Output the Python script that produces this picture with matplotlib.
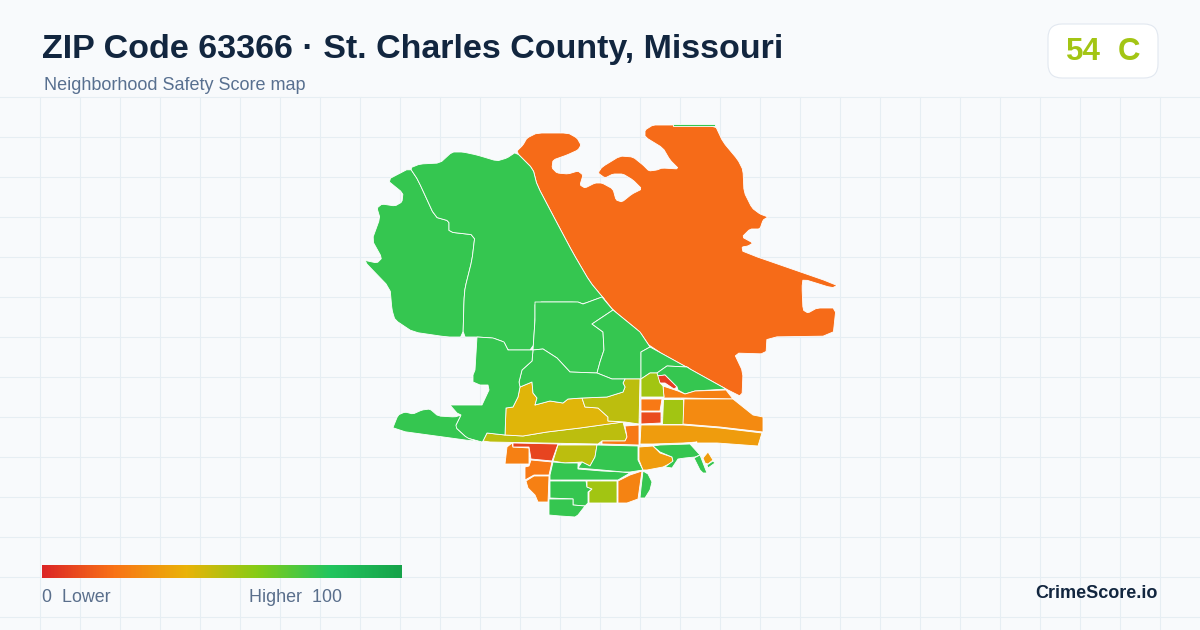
import numpy as np
import matplotlib
matplotlib.use("Agg")
import matplotlib.pyplot as plt
from matplotlib.colors import LinearSegmentedColormap
from matplotlib.patches import FancyBboxPatch, Polygon

plt.rcParams['font.family'] = ['Liberation Sans', 'DejaVu Sans']

title = "ZIP Code 63366 · St. Charles County, Missouri"
subtitle = "Neighborhood Safety Score map"
brand = "CrimeScore.io"
zip_score = 54
zip_grade = "C"

# score scale, same stops as the legend bar
scale_stops = [0, 20, 40, 60, 80, 100]
scale_colors = ['#dc2626', '#f97316', '#eab308', '#84cc16', '#22c55e', '#16a34a']

# block group outlines in image pixels
big_east = [(516,152),(523,145),(527,138),(537,133),(568,133),(577,138),(581,145),(578,150),(567,155),(553,160),
            (552,168),(557,173),(568,174),(578,171),(583,175),(580,185),(585,188),(595,183),(602,183),(613,189),
            (616,200),(622,202),(632,194),(642,189),(633,180),(623,174),(613,174),(605,178),(598,173),(602,167),
            (620,156),(633,157),(643,165),(649,171),(657,170),(662,168),(679,169),(670,160),(663,148),(645,137),
            (645,130),(653,125),(667,125),(715,125),(723,142),(738,160),(743,170),(744,192),(752,208),(760,214),
            (768,217),(763,220),(760,229),(750,229),(742,237),(753,243),(748,246),(742,247),(743,252),(838,285),
            (832,288),(803,279),(802,287),(803,310),(808,313),(817,308),(836,308),(833,336),(767,337),(766,354),
            (734,353),(743,372),(742,397),(726,389),(650,347),(640,332),(613,310),(605,300),(590,282),(573,253),
            (557,223),(537,185),(533,169)]
top_sliver = [(673,124),(715,124),(715,125.5),(673,125.5)]
far_west = [(410,168),(387,180),(403,193),(402,202),(395,206),(382,204),(377,208),(380,218),(372,240),(382,258),
            (377,263),(363,260),(390,288),(392,310),(395,320),(413,332),(447,337),(463,337),(464,300),(465,288),
            (472,260),(475,235),(449,232),(449,221),(435,217),(418,180)]
north_west = [(410,168),(420,164),(440,163),(452,152),(463,152),(477,155),(497,161),(507,158),(516,152),(533,169),
              (537,185),(557,223),(573,253),(590,282),(605,300),(602,297),(583,304),(578,302),(535,302),(535,320),
              (533,350),(513,350),(508,350),(504,342),(493,338),(477,337),(463,337),(464,300),(465,288),(472,260),
              (475,235),(449,232),(449,221),(435,217),(418,180)]
north_center = [(535,302),(578,302),(583,304),(602,297),(607,303),(613,310),(592,324),(603,332),(604,350),(600,362),
                (597,373),(570,372),(557,358),(543,349),(533,350),(535,320)]
river_side = [(613,310),(640,332),(650,347),(641,352),(641,379),(625,379),(612,379),(597,373),(600,362),(604,350),
              (603,332),(592,324)]
east_upper = [(650,347),(690,369),(687,367),(667,366),(657,373),(650,373),(641,379),(641,352)]
east_lower = [(690,369),(726,389),(695,391),(685,394),(678,390),(677,387),(665,375),(657,376),(657,373),(667,366),
              (687,367)]
red_sliver = [(657,376),(665,375),(677,387),(674,389),(665,383),(660,383)]
orange_strip = [(663,386),(678,391),(685,394),(695,391),(726,390),(733,399),(683,398),(664,398)]
lime_north = [(641,379),(650,373),(657,373),(660,383),(663,386),(664,397),(641,397)]
orange_square = [(641,399),(662,399),(660,411),(641,411)]
red_square = [(641,412),(661,412),(661,423),(641,424)]
lime_rect = [(663,399),(683,399),(683,424),(662,424)]
orange_east = [(684,399),(733,399),(743,407),(753,415),(763,417),(763,432),(720,427),(683,424)]
amber_band = [(641,425),(683,425),(720,428),(762,433),(758,446),(717,443),(693,443),(697,442),(683,443),(653,444),
              (640,444)]
olive_band = [(487,433),(505,435),(523,436),(547,432),(580,428),(623,422),(627,437),(625,441),(602,441),(598,444),
              (490,442),(483,441)]
orange_small = [(625,426),(639,425),(639,445),(602,444),(602,441),(625,441),(627,437)]
yellow_block = [(506,408),(513,407),(518,397),(520,387),(532,382),(533,393),(537,398),(535,405),(550,401),(563,403),
                (568,399),(582,398),(585,407),(598,408),(608,417),(608,421),(623,422),(580,428),(547,432),(523,436),
                (505,435)]
olive_north = [(625,379),(640,379),(639,424),(625,422),(608,421),(608,417),(598,408),(585,407),(582,398),(607,397),
               (623,392),(625,387),(623,383)]
green_center = [(533,350),(543,349),(557,358),(570,372),(597,373),(612,379),(625,379),(623,383),(625,387),(623,392),
                (607,397),(582,398),(568,399),(563,403),(550,401),(535,405),(537,398),(533,393),(532,382),(520,387),
                (519,382),(522,370),(532,361)]
west_mid = [(477,337),(493,338),(504,342),(508,350),(533,350),(532,361),(522,370),(519,382),(520,387),(518,397),
            (513,407),(506,408),(505,435),(487,433),(483,441),(482,442),(467,438),(455,427),(461,415),(457,413),
            (450,405),(482,405),(489,390),(488,385),(480,385),(473,382),(473,375),(475,370)]
south_west = [(392,430),(398,415),(405,412),(413,414),(422,410),(430,409),(438,416),(455,417),(461,415),(455,427),
              (467,438),(480,442)]
orange_left = [(507,447),(512,443),(513,447),(529,448),(529,464),(505,464)]
red_block = [(513,443),(558,444),(552,461),(531,459),(529,447),(513,447)]
orange_s1 = [(531,460),(552,462),(549,475),(534,475),(525,480),(525,467),(529,466)]
orange_s2 = [(534,476),(549,476),(548,502),(538,502),(535,495),(528,488),(526,481)]
olive_mid = [(558,445),(597,445),(595,457),(590,466),(582,462),(565,463),(553,461)]
green_s3 = [(553,462),(565,463),(578,463),(578,469),(602,471),(623,472),(630,473),(618,480),(550,480),(550,475)]
green_north = [(597,445),(638,446),(638,460),(643,470),(630,472),(623,472),(602,470),(578,468),(582,462),(590,466),
               (595,457)]
green_s4 = [(550,481),(586,481),(587,487),(592,489),(588,492),(588,503),(585,506),(573,505),(573,499),(550,498)]
green_s5 = [(549,499),(573,499),(573,505),(585,506),(578,515),(575,517),(560,516),(549,515)]
lime_south = [(587,481),(617,481),(617,503),(589,503),(589,492),(592,489),(587,487)]
orange_south = [(618,481),(630,475),(642,471),(638,499),(627,503),(618,503)]
green_se = [(643,471),(648,474),(652,482),(650,490),(645,498),(640,498),(641,488)]
amber_east = [(639,447),(653,446),(660,453),(672,457),(673,462),(663,467),(647,470),(643,470),(639,460)]
green_east = [(653,446),(660,445),(690,444),(700,455),(695,457),(685,458),(678,459),(672,468),(665,467),(673,461),
              (672,457),(660,452)]
green_island = [(694,458),(700,455),(705,468),(707,473),(703,473),(700,470)]
amber_island = [(703,458),(708,452),(713,460),(708,464),(705,463)]
green_islet = [(713,461),(715,463),(708,468),(707,465)]

zone_outlines = [big_east, top_sliver, far_west, north_west, north_center, river_side, east_upper, east_lower,
                 red_sliver, orange_strip, lime_north, orange_square, red_square, lime_rect, orange_east, amber_band,
                 olive_band, orange_small, yellow_block, olive_north, green_center, west_mid, south_west, orange_left,
                 red_block, orange_s1, orange_s2, olive_mid, green_s3, green_north, green_s4, green_s5, lime_south,
                 orange_south, green_se, amber_east, green_east, green_island, amber_island, green_islet]
zone_scores = [18, 76, 76, 76, 76, 76, 76, 76,
               6, 24, 54, 22, 10, 54, 27, 33,
               49, 22, 42, 49, 76, 76, 76, 24,
               8, 22, 24, 49, 76, 76, 76, 76, 54,
               25, 76, 33, 76, 76, 33, 76]
# the river and creek edges are curved in the original, the rest are street blocks
curved_zones = [big_east, far_west, north_west, south_west]

safety = LinearSegmentedColormap.from_list(
    'safety', [(s / 100, c) for s, c in zip(scale_stops, scale_colors)])


def round_corners(points, cut=0.15):
    pts = np.array(points, dtype=float)
    nxt = np.roll(pts, -1, axis=0)
    first = pts + (nxt - pts) * cut
    second = pts + (nxt - pts) * (1 - cut)
    return np.column_stack([first, second]).reshape(-1, 2)


fig = plt.figure(figsize=(12, 6.3), dpi=100, facecolor='#f8fafc')
ax = fig.add_axes([0, 0, 1, 1])
ax.set_xlim(0, 1200)
ax.set_ylim(630, 0)
ax.axis('off')

# faint background grid, only below the header
for gx in np.arange(40, 1200, 40):
    ax.plot([gx, gx], [97, 630], color='#e6eef3', lw=0.8, zorder=1)
for gy in np.arange(97, 630, 40):
    ax.plot([0, 1200], [gy - 0.5, gy - 0.5], color='#e6eef3', lw=0.8, zorder=1)

for outline, score in zip(zone_outlines, zone_scores):
    shape = round_corners(outline) if any(outline is z for z in curved_zones) else outline
    ax.add_patch(Polygon(shape, closed=True, facecolor=safety(score / 100),
                         edgecolor='white', lw=0.6, joinstyle='round', zorder=3))

ax.text(42, 49.5, title, fontsize=24.5, fontweight='bold', color='#12263f', va='center', ha='left', zorder=5)
ax.text(44, 86, subtitle, fontsize=13, color='#587090', va='center', ha='left', zorder=5)

# score badge
ax.add_patch(FancyBboxPatch((1062, 38), 82, 26, boxstyle='round,pad=14,rounding_size=14',
                            facecolor='white', edgecolor='#e2e8f0', lw=0.8, zorder=4))
ax.text(1066, 52.5, str(zip_score), fontsize=22.5, fontweight='bold', color='#a3c514', va='center', ha='left', zorder=5)
ax.text(1140, 52.5, zip_grade, fontsize=22.5, fontweight='bold', color='#a3c514', va='center', ha='right', zorder=5)

# legend bar
ramp = np.linspace(0, 1, 360).reshape(1, -1)
ax.imshow(ramp, cmap=safety, extent=(42, 402, 578, 565), aspect='auto', zorder=4)
ax.set_xlim(0, 1200)
ax.set_ylim(630, 0)
ax.text(42, 597.5, "0  Lower", fontsize=12.9, color='#5a6f8c', va='center', ha='left', zorder=5)
ax.text(342, 597.5, "Higher  100", fontsize=12.9, color='#5a6f8c', va='center', ha='right', zorder=5)
ax.text(1158, 593.5, brand, fontsize=13, fontweight='bold', color='#12263f', va='center', ha='right', zorder=5)

fig.savefig('out.png', dpi=100, facecolor=fig.get_facecolor())
plt.close(fig)
